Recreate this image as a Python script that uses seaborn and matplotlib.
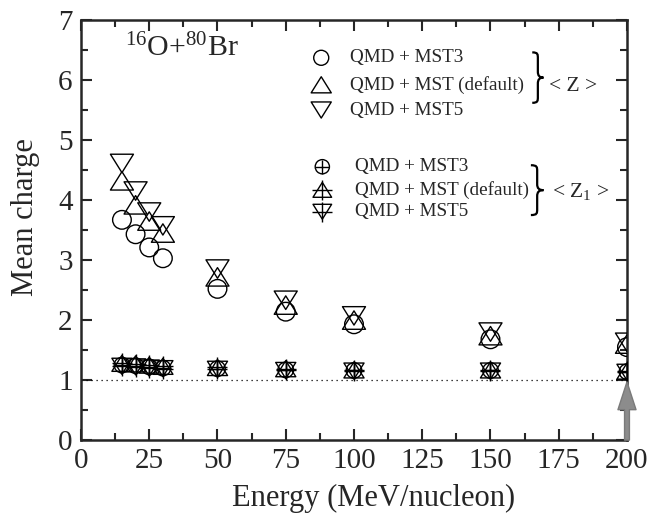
import matplotlib
matplotlib.use("Agg")
import matplotlib.pyplot as plt
from matplotlib.path import Path
from matplotlib.patches import PathPatch
import seaborn as sns

# data
energy = [15, 20, 25, 30, 50, 75, 100, 150, 200]
z_mst3 = [3.67, 3.43, 3.21, 3.03, 2.52, 2.14, 1.93, 1.68, 1.55]
z_default = [4.32, 3.92, 3.65, 3.45, 2.72, 2.25, 2.00, 1.74, 1.60]
z_mst5 = [4.61, 4.15, 3.80, 3.57, 2.85, 2.33, 2.07, 1.80, 1.63]
z1_mst3 = [1.25, 1.24, 1.22, 1.20, 1.19, 1.17, 1.16, 1.16, 1.14]
z1_default = [1.28, 1.27, 1.25, 1.23, 1.21, 1.19, 1.17, 1.17, 1.15]
z1_mst5 = [1.23, 1.22, 1.20, 1.19, 1.18, 1.16, 1.15, 1.15, 1.13]
labels = ["QMD + MST3", "QMD + MST (default)", "QMD + MST5"]

sns.set_style("ticks")
plt.rcParams["font.family"] = ["Liberation Serif", "DejaVu Serif"]
plt.rcParams["mathtext.fontset"] = "custom"
plt.rcParams["mathtext.rm"] = "Liberation Serif"
plt.rcParams["mathtext.it"] = "Liberation Serif:italic"

# slightly flattened triangles, like the original symbols
tri_up = Path([(-1, -0.8), (1, -0.8), (0, 0.8), (-1, -0.8)], closed=True)
tri_dn = Path([(-1, 0.8), (1, 0.8), (0, -0.8), (-1, 0.8)], closed=True)

fig = plt.figure(figsize=(6.5, 5.19), dpi=100)
ax = fig.add_axes([0.1246, 0.152, 0.84, 0.8095])

def hollow(x, y, m, s):
    sns.scatterplot(x=x, y=y, marker=m, s=s, facecolor="none",
                    edgecolor="black", linewidth=1.0, ax=ax, zorder=3)

def cross(x, y, s):
    sns.scatterplot(x=x, y=y, marker="+", s=s, color="black",
                    linewidth=1.0, ax=ax, zorder=4)

def brace(x0, x1, top, bot):
    mid = (top + bot) / 2
    xm = (x0 + x1) / 2
    q = (top - bot) * 0.12
    verts = [(x0, top), (xm, top), (xm, top - q * 0.3), (xm, top - q),
             (xm, mid + q),
             (xm, mid + q * 0.3), (xm + (x1 - xm) * 0.3, mid), (x1, mid),
             (xm + (x1 - xm) * 0.3, mid), (xm, mid - q * 0.3), (xm, mid - q),
             (xm, bot + q),
             (xm, bot + q * 0.3), (xm, bot), (x0, bot)]
    codes = [Path.MOVETO, Path.CURVE4, Path.CURVE4, Path.CURVE4,
             Path.LINETO,
             Path.CURVE4, Path.CURVE4, Path.CURVE4,
             Path.CURVE4, Path.CURVE4, Path.CURVE4,
             Path.LINETO,
             Path.CURVE4, Path.CURVE4, Path.CURVE4]
    ax.add_patch(PathPatch(Path(verts, codes), facecolor="none",
                           edgecolor="black", linewidth=1.6))

# <Z>
hollow(energy, z_mst3, "o", 180)
hollow(energy, z_default, tri_up, 275)
hollow(energy, z_mst5, tri_dn, 275)
# <Z1>
hollow(energy, z1_mst3, "o", 125)
cross(energy, z1_mst3, 125)
hollow(energy, z1_default, tri_up, 210)
cross(energy, z1_default, 210)
hollow(energy, z1_mst5, tri_dn, 210)
cross(energy, z1_mst5, 210)

ax.axhline(1.0, color="black", linestyle=(0, (1, 3)), linewidth=0.9, zorder=1)

# arrow at 200 MeV/nucleon
ax.annotate("", xy=(200, 0.97), xytext=(200, 0.0),
            arrowprops=dict(arrowstyle="simple,head_width=1.3,head_length=2.0,tail_width=0.35",
                            mutation_scale=10, shrinkA=0, shrinkB=0,
                            facecolor="#8c8c8c", edgecolor="#7a7a7a", lw=1.0),
            annotation_clip=False, zorder=5)

# legend block drawn by hand
leg_x = 88.0
rows1 = [6.37, 5.92, 5.50]
rows2 = [4.555, 4.17, 3.805]
hollow([leg_x], [rows1[0]], "o", 117)
hollow([leg_x], [rows1[1]], tri_up, 210)
hollow([leg_x], [rows1[2]], tri_dn, 210)
hollow([leg_x + 0.4], [rows2[0]], "o", 105)
cross([leg_x + 0.4], [rows2[0]], 105)
hollow([leg_x + 0.4], [rows2[1]], tri_up, 180)
cross([leg_x + 0.4], [rows2[1]], 200)
hollow([leg_x + 0.4], [rows2[2]], tri_dn, 180)
cross([leg_x + 0.4], [rows2[2]], 200)
for yy, lab in zip(rows1, labels):
    ax.text(98.5, yy, lab, fontsize=13.8, va="center", ha="left")
for yy, lab in zip(rows2, labels):
    ax.text(100.4, yy, lab, fontsize=13.8, va="center", ha="left")
brace(165.3, 169.4, 6.46, 5.62)
brace(164.8, 169.4, 4.58, 3.75)
ax.text(171.6, 5.90, "< Z >", fontsize=15.5, va="center", ha="left")
ax.text(172.6, 4.15, "< Z$_1$ >", fontsize=15.5, va="center", ha="left")

ax.text(16.2, 6.53, "$^{16}$O+$^{80}$Br", fontsize=21.5, va="center", ha="left")

ax.set_xlim(0, 200)
ax.set_ylim(0, 7)
ax.set_xticks(range(0, 201, 25))
ax.set_xticks([12.5 + 25 * i for i in range(8)], minor=True)
ax.set_yticks(range(0, 8))
ax.set_yticks([0.5 + i for i in range(7)], minor=True)
ax.tick_params(which="both", direction="in", top=True, right=True,
               width=1.5, labelsize=21)
ax.tick_params(which="major", length=8, pad=6)
ax.tick_params(which="minor", length=5)
for sp in ax.spines.values():
    sp.set_linewidth(1.8)
ax.set_xlabel("Energy (MeV/nucleon)", fontsize=22)
ax.set_ylabel("Mean charge", fontsize=22)
ax.xaxis.set_label_coords(0.535, -0.105)
ax.yaxis.set_label_coords(-0.075, 0.53)

fig.savefig("out.png", dpi=100)
